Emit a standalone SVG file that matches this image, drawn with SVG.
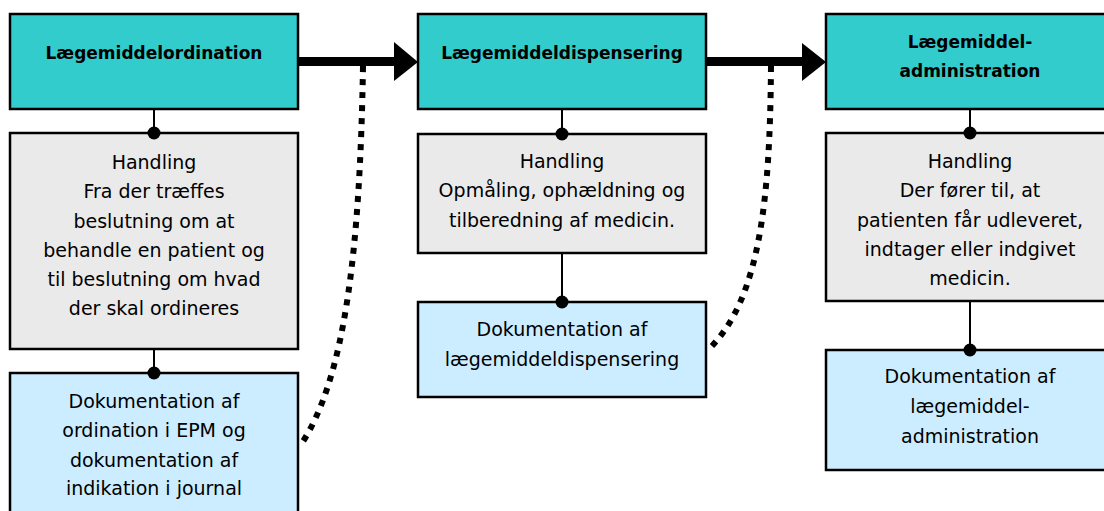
<svg xmlns="http://www.w3.org/2000/svg" width="1104" height="511" viewBox="0 0 1104 511">
<style>
.box{stroke:#000;stroke-width:2.5}
.teal{fill:#33CCCC}
.gray{fill:#EAEAEA}
.doc{fill:#CCECFF}
.t{font-family:"DejaVu Sans",sans-serif;font-size:19px;fill:#000;text-anchor:middle}
.h{font-family:"DejaVu Sans",sans-serif;font-size:17px;font-weight:bold;fill:#000;text-anchor:middle}
.thin{stroke:#000;stroke-width:2;fill:none}
.dot{fill:#000}
.dotted{stroke:#000;stroke-width:6;fill:none;stroke-dasharray:6 7}
.main{stroke:#000;stroke-width:9;fill:none}
</style>
<rect width="1104" height="511" fill="#fff"/>
<g id="n1">
<rect class="box teal" x="10" y="14" width="288" height="95"/>
<text class="h" x="154" y="59">Lægemiddelordination</text>
</g>
<g id="n2">
<rect class="box gray" x="10" y="133" width="288" height="216"/>
<text class="t" x="154" y="169">Handling</text>
<text class="t" x="154" y="198">Fra der træffes</text>
<text class="t" x="154" y="227.5">beslutning om at</text>
<text class="t" x="154" y="257">behandle en patient og</text>
<text class="t" x="154" y="286">til beslutning om hvad</text>
<text class="t" x="154" y="315">der skal ordineres</text>
</g>
<g id="n3">
<rect class="box doc" x="10" y="373" width="288" height="145"/>
<text class="t" x="154" y="408">Dokumentation af</text>
<text class="t" x="154" y="437">ordination i EPM og</text>
<text class="t" x="154" y="467">dokumentation af</text>
<text class="t" x="154" y="495">indikation i journal</text>
</g>
<g id="n4">
<rect class="box teal" x="418" y="14" width="288" height="95"/>
<text class="h" x="562" y="59">Lægemiddeldispensering</text>
</g>
<g id="n5">
<rect class="box gray" x="418" y="134" width="288" height="119"/>
<text class="t" x="562" y="168">Handling</text>
<text class="t" x="562" y="197">Opmåling, ophældning og</text>
<text class="t" x="562" y="227">tilberedning af medicin.</text>
</g>
<g id="n6">
<rect class="box doc" x="418" y="302" width="288" height="95"/>
<text class="t" x="562" y="336">Dokumentation af</text>
<text class="t" x="562" y="366">lægemiddeldispensering</text>
</g>
<g id="n7">
<rect class="box teal" x="826" y="14" width="284" height="95"/>
<text class="h" x="970" y="48">Lægemiddel-</text>
<text class="h" x="970" y="77">administration</text>
</g>
<g id="n8">
<rect class="box gray" x="826" y="133" width="284" height="168"/>
<text class="t" x="970" y="168">Handling</text>
<text class="t" x="970" y="197">Der fører til, at</text>
<text class="t" x="970" y="227">patienten får udleveret,</text>
<text class="t" x="970" y="256">indtager eller indgivet</text>
<text class="t" x="970" y="285">medicin.</text>
</g>
<g id="n9">
<rect class="box doc" x="826" y="350" width="284" height="120"/>
<text class="t" x="970" y="383">Dokumentation af</text>
<text class="t" x="970" y="413">lægemiddel-</text>
<text class="t" x="970" y="443">administration</text>
</g>
<g id="connectors">
<path class="dotted" d="M363 66 C360 250 345 380 300 446"/>
<path class="dotted" d="M771 66 C770 200 760 300 708 350"/>
<path class="main" d="M298 61.5 H396"/>
<polygon class="dot" points="394,42 418,62 394,81"/>
<path class="main" d="M706 61.5 H804"/>
<polygon class="dot" points="802,43 826,62 802,81"/>
<path class="thin" d="M154 109 V133 M154 349 V373"/>
<circle class="dot" cx="154" cy="133" r="6.5"/>
<circle class="dot" cx="154" cy="373" r="6.5"/>
<path class="thin" d="M562 109 V134 M562 253 V302"/>
<circle class="dot" cx="562" cy="134" r="6.5"/>
<circle class="dot" cx="562" cy="302" r="6.5"/>
<path class="thin" d="M970 109 V133 M970 301 V350"/>
<circle class="dot" cx="970" cy="133" r="6.5"/>
<circle class="dot" cx="970" cy="350" r="6.5"/>
</g>
</svg>
